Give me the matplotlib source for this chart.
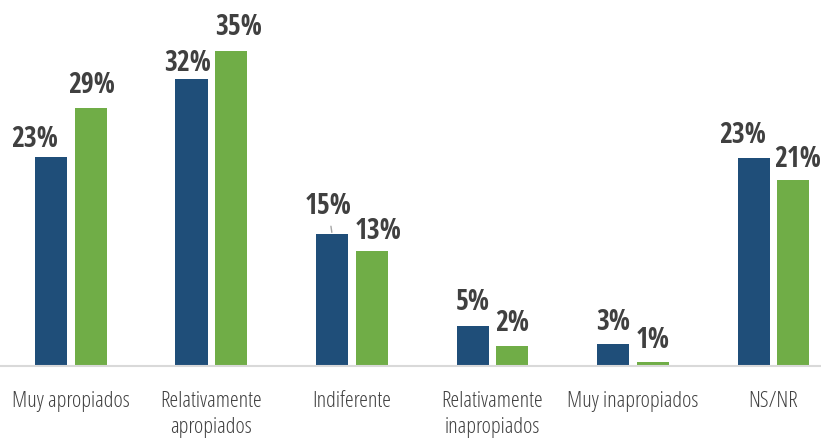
import matplotlib.pyplot as plt
import numpy as np

# categories and values (bar heights, labels as printed)
categories = ['Muy apropiados', 'Relativamente\napropiados', 'Indiferente',
              'Relativamente\ninapropiados', 'Muy inapropiados', 'NS/NR']
serie_a = [23.2, 31.9, 14.7, 4.5, 2.4, 23.1]
serie_b = [28.7, 35.0, 12.8, 2.2, 0.5, 20.7]
labels_a = ['23%', '32%', '15%', '5%', '3%', '23%']
labels_b = ['29%', '35%', '13%', '2%', '1%', '21%']

# label nudges in pixels (dx, gap above bar)
nudge_a = [(-16, 10), (-4, 8), (-4, 20), (0, 16), (0, 14), (-11, 15)]
nudge_b = [(1, 15), (7, 16), (6, 12), (0, 15), (0, 14), (4, 13)]

BLUE = '#1F4E79'
GREEN = '#70AD47'
px = 0.72  # points per pixel at dpi 100

fig = plt.figure(figsize=(8.21, 4.43), dpi=100)
ax = fig.add_axes([0, 77/443, 1, 366/443])

x = np.arange(len(categories))
w = 0.228
off = 0.142
bars_a = ax.bar(x - off, serie_a, w, color=BLUE)
bars_b = ax.bar(x + off, serie_b, w, color=GREEN)

lab_font = dict(family='Open Sans Condensed', fontweight='bold',
                fontsize=20, color='#404040')
for bars, labels, nudges in [(bars_a, labels_a, nudge_a), (bars_b, labels_b, nudge_b)]:
    for b, lab, (dx, dy) in zip(bars, labels, nudges):
        xc = b.get_x() + b.get_width() / 2
        arrow = None
        if dy >= 20:
            arrow = dict(arrowstyle='-', color='#A6A6A6', lw=1, shrinkA=2, shrinkB=1)
        ax.annotate(lab, xy=(xc, b.get_height()), xytext=(dx*px, dy*px),
                    textcoords='offset points', ha='center', va='baseline',
                    arrowprops=arrow, **lab_font)

ax.set_xlim(-0.505, 5.338)
ax.set_ylim(0, 40.67)
ax.set_xticks(x)
ax.set_xticklabels(categories, family='Open Sans', fontstretch='condensed',
                   fontweight='light', fontsize=16, color='#404040', linespacing=1.32)
ax.tick_params(axis='x', length=0, pad=18)
ax.set_yticks([])
for s in ['top', 'right', 'left']:
    ax.spines[s].set_visible(False)
ax.spines['bottom'].set_color('#D9D9D9')
ax.spines['bottom'].set_linewidth(1.5)

plt.savefig('out.png', dpi=100)
